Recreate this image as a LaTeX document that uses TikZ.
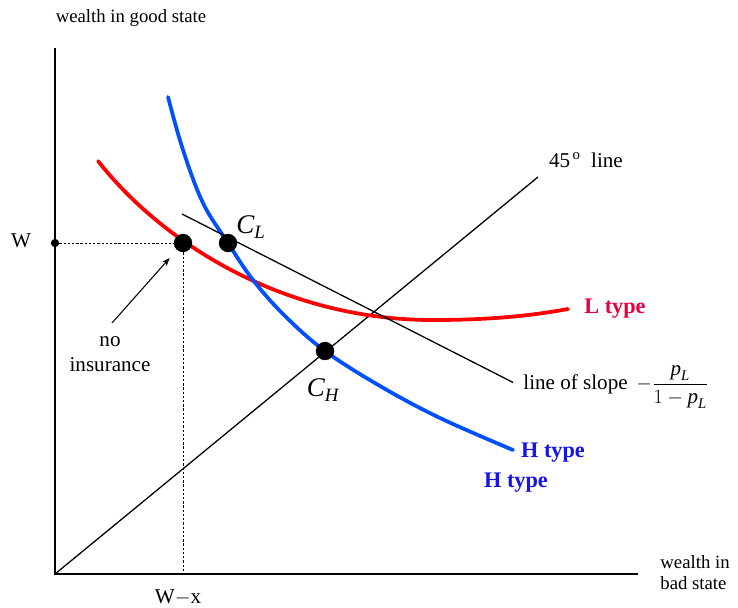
\documentclass[tikz,border=0pt]{standalone}
\usepackage{fontspec}
\setmainfont{Liberation Serif}
\usepackage{amsmath}
\usepackage{tikz}
\usetikzlibrary{arrows.meta, positioning, calc}
\definecolor{myred}{RGB}{255,0,0}
\definecolor{mycrimson}{RGB}{232,0,60}
\definecolor{myblue}{RGB}{0,80,255}
\definecolor{mynavy}{RGB}{20,20,235}
\tikzset{
  axis/.style={line width=1.6pt, color=black},
  thinline/.style={line width=1.1pt, color=black},
  guide/.style={line width=0.7pt, dash pattern=on 2pt off 1.6pt},
  curveL/.style={line width=3.2pt, color=myred, line cap=round},
  curveH/.style={line width=3.2pt, color=myblue, line cap=round},
  bigdot/.style={circle, fill=black, minimum size=0.55cm, inner sep=0pt},
  smalldot/.style={circle, fill=black, minimum size=0.25cm, inner sep=0pt},
  lbl/.style={font=\fontsize{18}{21}\selectfont, inner sep=1pt},
  axlbl/.style={font=\fontsize{16}{18}\selectfont, inner sep=1pt},
  clbl/.style={font=\fontsize{23}{26}\selectfont, inner sep=1pt},
  typeL/.style={font=\fontsize{19}{21}\selectfont\bfseries, color=mycrimson, inner sep=1pt},
  typeH/.style={font=\fontsize{19}{21}\selectfont\bfseries, color=mynavy, inner sep=1pt},
  arrow/.style={-Stealth, line width=0.9pt, color=black}
}

\begin{document}
\begin{tikzpicture}[x=0.03cm, y=-0.03cm]
  \useasboundingbox (0,0) rectangle (738,607);

  % Axes
  \coordinate (O) at (55,574);
  \coordinate (ytop) at (55,48);
  \coordinate (xend) at (638,574);
  \coordinate (diag) at (538,177);
  \draw[axis] (ytop) -- (O) -- (xend);
  \draw[thinline] (O) -- (diag);

  % Curves
  \draw[curveL] (98,161) .. controls (160,240) and (280,320) .. (433,320)
    .. controls (500,320) and (540,314) .. (568,309);
  \draw[curveH] plot[smooth, tension=0.6] coordinates {(168,97) (183,150) (203,203)
    (228,243) (253,280) (285,316) (325,351) (380,386) (440,418) (513,450)};

  % Nodes
  \node[smalldot] (Wdot) at (55,243) {};
  \node[bigdot] (noins) at (183,243) {};
  \node[bigdot] (CL) at (228,243) {};
  \node[bigdot] (CH) at (325,351) {};
  \coordinate (slopeA) at (182,214);
  \coordinate (arrtail) at (112,323);

  \node[axlbl] (ylbl) at (131,18) {wealth in good state};
  \node[axlbl, align=left, anchor=west] (xlbl) at (659,573) {wealth in\\bad state};
  \node[lbl] (Wlbl) at (21,241) {W};
  \node[lbl] (Wxlbl) at (178,597) {W$-$x};
  \node[lbl, align=center] (noinslbl) at (110,354) {no\\insurance};
  \node[clbl] (CLlbl) at (251,227) {$\textit{C}_{\textit{L}}$};
  \node[clbl] (CHlbl) at (323,390) {$\textit{C}_{\textit{H}}$};
  \node[lbl] (diaglbl) at (586,160) {45\textsuperscript{\,o}\ \ line};
  \node[lbl, anchor=west] (slopelbl) at (522,387)
    {line of slope\ \,$-\dfrac{\textit{p}_{\textit{L}}}{1-\textit{p}_{\textit{L}}}$};
  \node[typeL] (Ltype) at (615,309) {L type};
  \node[typeH] (Htype) at (553,453) {H type};
  \node[typeH] (Htype2) at (516,483) {H type};

  % Arrows
  \draw[thinline, shorten >=0.3cm] (slopeA) -- (slopelbl.west);
  \draw[guide] (Wdot) -- (noins);
  \draw[guide] (noins) -- (noins |- O);
  \draw[arrow, shorten >=0.32cm] (arrtail) -- (noins);
\end{tikzpicture}
\end{document}
